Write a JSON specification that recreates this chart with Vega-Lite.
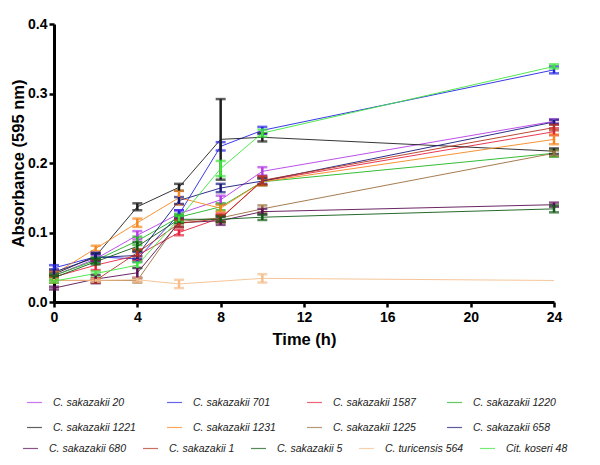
{
  "$schema": "https://vega.github.io/schema/vega-lite/v6.json",
  "width": 500,
  "height": 278,
  "autosize": {"type": "none"},
  "padding": {"left": 54, "top": 24, "right": 46, "bottom": 163},
  "background": "white",
  "datasets": {
    "groupA": [
      {"strain": "C. sakazakii 20", "time": 0, "od": 0.038, "lo": 0.034, "hi": 0.042},
      {"strain": "C. sakazakii 20", "time": 2, "od": 0.062, "lo": 0.057, "hi": 0.067},
      {"strain": "C. sakazakii 20", "time": 4, "od": 0.096, "lo": 0.090, "hi": 0.102},
      {"strain": "C. sakazakii 20", "time": 6, "od": 0.127, "lo": 0.122, "hi": 0.132},
      {"strain": "C. sakazakii 20", "time": 8, "od": 0.147, "lo": 0.141, "hi": 0.153},
      {"strain": "C. sakazakii 20", "time": 10, "od": 0.188, "lo": 0.182, "hi": 0.194},
      {"strain": "C. sakazakii 20", "time": 24, "od": 0.260, "lo": 0.257, "hi": 0.263},
      {"strain": "C. sakazakii 701", "time": 0, "od": 0.049, "lo": 0.045, "hi": 0.053},
      {"strain": "C. sakazakii 701", "time": 2, "od": 0.065, "lo": 0.059, "hi": 0.071},
      {"strain": "C. sakazakii 701", "time": 4, "od": 0.062, "lo": 0.058, "hi": 0.066},
      {"strain": "C. sakazakii 701", "time": 6, "od": 0.126, "lo": 0.120, "hi": 0.132},
      {"strain": "C. sakazakii 701", "time": 8, "od": 0.224, "lo": 0.218, "hi": 0.230},
      {"strain": "C. sakazakii 701", "time": 10, "od": 0.247, "lo": 0.242, "hi": 0.252},
      {"strain": "C. sakazakii 701", "time": 24, "od": 0.334, "lo": 0.329, "hi": 0.339},
      {"strain": "C. sakazakii 1587", "time": 0, "od": 0.036, "lo": 0.033, "hi": 0.039},
      {"strain": "C. sakazakii 1587", "time": 2, "od": 0.053, "lo": 0.046, "hi": 0.060},
      {"strain": "C. sakazakii 1587", "time": 4, "od": 0.067, "lo": 0.060, "hi": 0.074},
      {"strain": "C. sakazakii 1587", "time": 6, "od": 0.100, "lo": 0.096, "hi": 0.104},
      {"strain": "C. sakazakii 1587", "time": 8, "od": 0.121, "lo": 0.115, "hi": 0.127},
      {"strain": "C. sakazakii 1587", "time": 10, "od": 0.174, "lo": 0.168, "hi": 0.180},
      {"strain": "C. sakazakii 1587", "time": 24, "od": 0.245, "lo": 0.240, "hi": 0.250},
      {"strain": "C. sakazakii 1220", "time": 0, "od": 0.038, "lo": 0.035, "hi": 0.041},
      {"strain": "C. sakazakii 1220", "time": 2, "od": 0.060, "lo": 0.056, "hi": 0.064},
      {"strain": "C. sakazakii 1220", "time": 4, "od": 0.088, "lo": 0.082, "hi": 0.094},
      {"strain": "C. sakazakii 1220", "time": 6, "od": 0.122, "lo": 0.117, "hi": 0.127},
      {"strain": "C. sakazakii 1220", "time": 8, "od": 0.137, "lo": 0.132, "hi": 0.142},
      {"strain": "C. sakazakii 1220", "time": 10, "od": 0.173, "lo": 0.168, "hi": 0.178},
      {"strain": "C. sakazakii 1220", "time": 24, "od": 0.214, "lo": 0.209, "hi": 0.219},
      {"strain": "C. sakazakii 1221", "time": 0, "od": 0.040, "lo": 0.037, "hi": 0.043},
      {"strain": "C. sakazakii 1221", "time": 2, "od": 0.066, "lo": 0.062, "hi": 0.070},
      {"strain": "C. sakazakii 1221", "time": 4, "od": 0.137, "lo": 0.132, "hi": 0.142},
      {"strain": "C. sakazakii 1221", "time": 6, "od": 0.165, "lo": 0.160, "hi": 0.170},
      {"strain": "C. sakazakii 1221", "time": 8, "od": 0.234, "lo": 0.176, "hi": 0.292},
      {"strain": "C. sakazakii 1221", "time": 10, "od": 0.237, "lo": 0.231, "hi": 0.243},
      {"strain": "C. sakazakii 1221", "time": 24, "od": 0.217, "lo": 0.213, "hi": 0.221},
      {"strain": "C. sakazakii 1231", "time": 0, "od": 0.040, "lo": 0.036, "hi": 0.044},
      {"strain": "C. sakazakii 1231", "time": 2, "od": 0.077, "lo": 0.073, "hi": 0.081},
      {"strain": "C. sakazakii 1231", "time": 4, "od": 0.114, "lo": 0.108, "hi": 0.120},
      {"strain": "C. sakazakii 1231", "time": 6, "od": 0.150, "lo": 0.140, "hi": 0.160},
      {"strain": "C. sakazakii 1231", "time": 8, "od": 0.135, "lo": 0.130, "hi": 0.140},
      {"strain": "C. sakazakii 1231", "time": 10, "od": 0.173, "lo": 0.168, "hi": 0.178},
      {"strain": "C. sakazakii 1231", "time": 24, "od": 0.234, "lo": 0.227, "hi": 0.241},
      {"strain": "C. sakazakii 1225", "time": 0, "od": 0.031, "lo": 0.028, "hi": 0.034},
      {"strain": "C. sakazakii 1225", "time": 2, "od": 0.031, "lo": 0.028, "hi": 0.034},
      {"strain": "C. sakazakii 1225", "time": 4, "od": 0.031, "lo": 0.028, "hi": 0.034},
      {"strain": "C. sakazakii 1225", "time": 6, "od": 0.116, "lo": 0.112, "hi": 0.120},
      {"strain": "C. sakazakii 1225", "time": 8, "od": 0.121, "lo": 0.117, "hi": 0.125},
      {"strain": "C. sakazakii 1225", "time": 10, "od": 0.134, "lo": 0.129, "hi": 0.139},
      {"strain": "C. sakazakii 1225", "time": 24, "od": 0.214, "lo": 0.210, "hi": 0.218},
      {"strain": "C. sakazakii 658", "time": 0, "od": 0.043, "lo": 0.039, "hi": 0.047},
      {"strain": "C. sakazakii 658", "time": 2, "od": 0.064, "lo": 0.059, "hi": 0.069},
      {"strain": "C. sakazakii 658", "time": 4, "od": 0.067, "lo": 0.062, "hi": 0.072},
      {"strain": "C. sakazakii 658", "time": 6, "od": 0.146, "lo": 0.141, "hi": 0.151},
      {"strain": "C. sakazakii 658", "time": 8, "od": 0.164, "lo": 0.158, "hi": 0.170},
      {"strain": "C. sakazakii 658", "time": 10, "od": 0.174, "lo": 0.170, "hi": 0.178},
      {"strain": "C. sakazakii 658", "time": 24, "od": 0.259, "lo": 0.256, "hi": 0.262}
    ],
    "groupB": [
      {"strain": "C. sakazakii 680", "time": 0, "od": 0.020, "lo": 0.018, "hi": 0.022},
      {"strain": "C. sakazakii 680", "time": 2, "od": 0.033, "lo": 0.027, "hi": 0.039},
      {"strain": "C. sakazakii 680", "time": 4, "od": 0.042, "lo": 0.035, "hi": 0.049},
      {"strain": "C. sakazakii 680", "time": 6, "od": 0.114, "lo": 0.108, "hi": 0.120},
      {"strain": "C. sakazakii 680", "time": 8, "od": 0.117, "lo": 0.111, "hi": 0.123},
      {"strain": "C. sakazakii 680", "time": 10, "od": 0.130, "lo": 0.126, "hi": 0.134},
      {"strain": "C. sakazakii 680", "time": 24, "od": 0.140, "lo": 0.137, "hi": 0.143},
      {"strain": "C. sakazakii 1", "time": 0, "od": 0.031, "lo": 0.028, "hi": 0.034},
      {"strain": "C. sakazakii 1", "time": 2, "od": 0.031, "lo": 0.028, "hi": 0.034},
      {"strain": "C. sakazakii 1", "time": 4, "od": 0.071, "lo": 0.066, "hi": 0.076},
      {"strain": "C. sakazakii 1", "time": 6, "od": 0.113, "lo": 0.108, "hi": 0.118},
      {"strain": "C. sakazakii 1", "time": 8, "od": 0.120, "lo": 0.115, "hi": 0.125},
      {"strain": "C. sakazakii 1", "time": 10, "od": 0.175, "lo": 0.169, "hi": 0.181},
      {"strain": "C. sakazakii 1", "time": 24, "od": 0.251, "lo": 0.247, "hi": 0.255},
      {"strain": "C. sakazakii 5", "time": 0, "od": 0.035, "lo": 0.032, "hi": 0.038},
      {"strain": "C. sakazakii 5", "time": 2, "od": 0.058, "lo": 0.054, "hi": 0.062},
      {"strain": "C. sakazakii 5", "time": 4, "od": 0.080, "lo": 0.074, "hi": 0.086},
      {"strain": "C. sakazakii 5", "time": 6, "od": 0.119, "lo": 0.114, "hi": 0.124},
      {"strain": "C. sakazakii 5", "time": 8, "od": 0.119, "lo": 0.115, "hi": 0.123},
      {"strain": "C. sakazakii 5", "time": 10, "od": 0.122, "lo": 0.118, "hi": 0.126},
      {"strain": "C. sakazakii 5", "time": 24, "od": 0.134, "lo": 0.129, "hi": 0.139},
      {"strain": "C. turicensis 564", "time": 0, "od": 0.031, "lo": 0.029, "hi": 0.033},
      {"strain": "C. turicensis 564", "time": 2, "od": 0.031, "lo": 0.029, "hi": 0.033},
      {"strain": "C. turicensis 564", "time": 4, "od": 0.032, "lo": 0.029, "hi": 0.035},
      {"strain": "C. turicensis 564", "time": 6, "od": 0.026, "lo": 0.020, "hi": 0.032},
      {"strain": "C. turicensis 564", "time": 10, "od": 0.034, "lo": 0.028, "hi": 0.040},
      {"strain": "C. turicensis 564", "time": 24, "od": 0.031, "lo": null, "hi": null},
      {"strain": "Cit. koseri 48", "time": 0, "od": 0.030, "lo": 0.028, "hi": 0.032},
      {"strain": "Cit. koseri 48", "time": 2, "od": 0.041, "lo": 0.038, "hi": 0.044},
      {"strain": "Cit. koseri 48", "time": 4, "od": 0.053, "lo": 0.049, "hi": 0.057},
      {"strain": "Cit. koseri 48", "time": 6, "od": 0.120, "lo": 0.116, "hi": 0.124},
      {"strain": "Cit. koseri 48", "time": 8, "od": 0.192, "lo": 0.181, "hi": 0.203},
      {"strain": "Cit. koseri 48", "time": 10, "od": 0.243, "lo": 0.238, "hi": 0.248},
      {"strain": "Cit. koseri 48", "time": 24, "od": 0.339, "lo": 0.336, "hi": 0.342}
    ]
  },
  "layer": [
    {
      "data": {"name": "groupA"},
      "encoding": {
        "x": {"field": "time", "type": "quantitative", "title": "Time (h)",
              "scale": {"domain": [0, 24], "nice": false},
              "axis": {"values": [0, 4, 8, 12, 16, 20, 24]}},
        "color": {"field": "strain", "type": "nominal",
          "scale": {
            "domain": ["C. sakazakii 20", "C. sakazakii 701", "C. sakazakii 1587", "C. sakazakii 1220", "C. sakazakii 1221", "C. sakazakii 1231", "C. sakazakii 1225", "C. sakazakii 658"],
            "range": ["#b43ce6", "#2323e6", "#e6233c", "#1eb41e", "#1e1e1e", "#f5871e", "#9b6e3c", "#19197d"]
          },
          "legend": {"orient": "none", "direction": "horizontal", "legendX": -28, "legendY": 370, "columns": 4, "columnPadding": 28, "rowPadding": 11, "gridAlign": "all", "title": null}
        }
      },
      "layer": [
        {"mark": {"type": "line", "strokeWidth": 0.9},
         "encoding": {"y": {"field": "od", "type": "quantitative", "title": "Absorbance (595 nm)",
                            "scale": {"domain": [0, 0.4], "nice": false},
                            "axis": {"values": [0, 0.1, 0.2, 0.3, 0.4], "format": ".1f"}}}},
        {"mark": {"type": "errorbar", "thickness": 2.5, "ticks": {"size": 10}},
         "encoding": {"y": {"field": "lo", "type": "quantitative", "title": "Absorbance (595 nm)"},
                      "y2": {"field": "hi"}}}
      ]
    },
    {
      "data": {"name": "groupB"},
      "encoding": {
        "x": {"field": "time", "type": "quantitative", "title": "Time (h)"},
        "color": {"field": "strain", "type": "nominal",
          "scale": {
            "domain": ["C. sakazakii 680", "C. sakazakii 1", "C. sakazakii 5", "C. turicensis 564", "Cit. koseri 48"],
            "range": ["#5a0f55", "#b4321e", "#0f5a14", "#f5be8c", "#3ce63c"]
          },
          "legend": {"orient": "none", "direction": "horizontal", "legendX": -32, "legendY": 416, "columns": 5, "columnPadding": 13, "rowPadding": 11, "gridAlign": "none", "title": null}
        }
      },
      "layer": [
        {"mark": {"type": "line", "strokeWidth": 0.9},
         "encoding": {"y": {"field": "od", "type": "quantitative", "title": "Absorbance (595 nm)"}}},
        {"mark": {"type": "errorbar", "thickness": 2.5, "ticks": {"size": 10}},
         "encoding": {"y": {"field": "lo", "type": "quantitative", "title": "Absorbance (595 nm)"},
                      "y2": {"field": "hi"}}}
      ]
    }
  ],
  "resolve": {"scale": {"color": "independent"}, "legend": {"color": "independent"}},
  "config": {
    "view": {"stroke": null},
    "axis": {
      "grid": false,
      "domainColor": "black",
      "domainWidth": 3,
      "tickColor": "black",
      "tickWidth": 2.5,
      "tickSize": 5,
      "labelFont": "Liberation Sans",
      "labelFontWeight": "bold",
      "labelFontSize": 14,
      "labelColor": "black",
      "titleFont": "Liberation Sans",
      "titleFontWeight": "bold",
      "titleFontSize": 16.5,
      "titleColor": "black"
    },
    "axisX": {"labelPadding": 3, "titlePadding": 7, "labelFlush": false},
    "axisY": {"labelPadding": 2, "titlePadding": 1},
    "legend": {
      "symbolType": "stroke",
      "symbolSize": 225,
      "symbolStrokeWidth": 1.2,
      "labelFont": "Liberation Sans",
      "labelFontSize": 10.5,
      "labelFontStyle": "italic",
      "labelColor": "#222222",
      "labelOffset": 10
    }
  }
}
